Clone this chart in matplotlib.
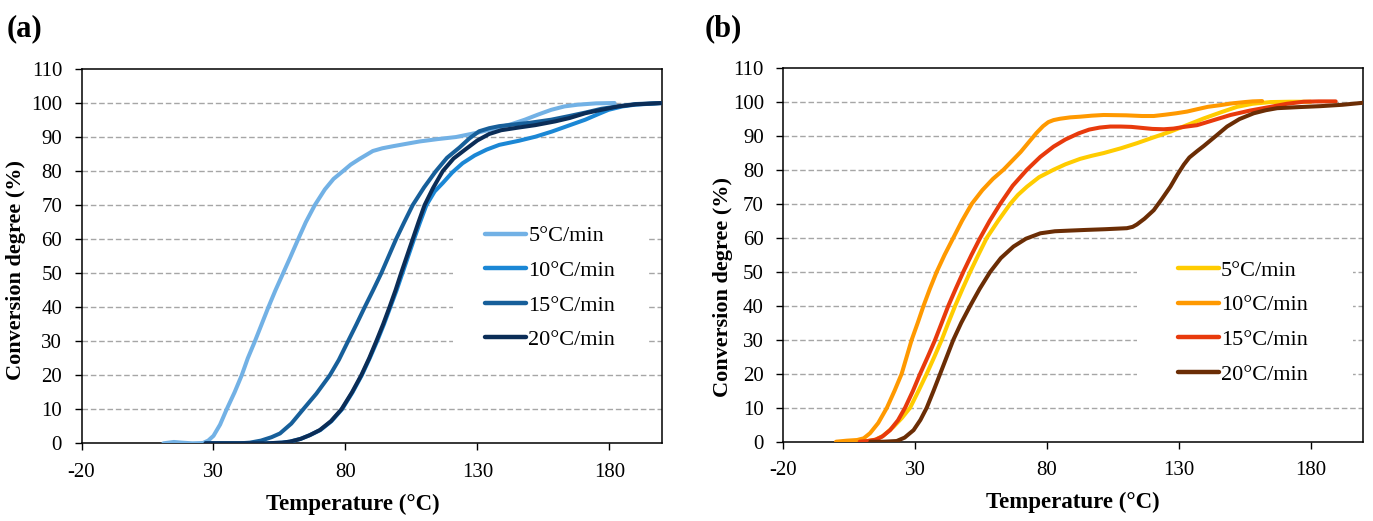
import numpy as np
import matplotlib
matplotlib.use("Agg")
import matplotlib.pyplot as plt
from matplotlib.patches import Rectangle

plt.rcParams['font.family'] = ['Liberation Serif', 'DejaVu Serif']
plt.rcParams['axes.unicode_minus'] = False

rates = ['5°C/min', '10°C/min', '15°C/min', '20°C/min']

# panel (a) - temperature (°C) and conversion degree (%)
a5_T = [11, 15, 18, 22, 26, 28, 30, 32.5, 35, 38, 40.7, 43, 45.7, 48, 50.8, 53.5, 56.4, 59, 62.1, 65,
        68.4, 72.2, 75.5, 79.1, 82, 85.4, 90.4, 94, 98, 103, 108.1, 115, 121.9, 130.7, 137, 143, 148, 153,
        158, 163, 168, 175, 182]
a5_C = [0, 0.4, 0.2, 0, 0.1, 0.8, 2.2, 5.5, 10, 15, 20, 25, 30, 34.5, 40, 45, 50, 54.5, 60, 65,
        70, 74.6, 77.7, 80, 81.9, 83.6, 85.9, 86.7, 87.3, 88, 88.7, 89.4, 90, 91.4, 92.6, 93.8, 95.1, 96.6,
        98, 99, 99.5, 99.9, 100]

a10_T = [27, 40, 50, 56, 59, 63, 66.5, 70.5, 74.7, 78.7, 82.7, 86.2, 89.2, 92, 94.6, 97, 99.4, 101.6, 103.8, 106,
         108.3, 110.7, 113.8, 116.9, 120.5, 124.4, 129, 133.5, 138.3, 145.7, 152, 158.2, 164, 170.9, 176, 179.7,
         185, 189.7, 200]
a10_C = [0, 0, 0, 0.2, 0.5, 1.3, 2.4, 3.9, 6.5, 10, 15, 20, 25, 30, 35, 40, 45, 50, 55, 60,
         65, 70, 74, 76.5, 79.6, 82.3, 84.6, 86.3, 87.7, 88.9, 90.1, 91.6, 93.2, 95.1, 96.8, 98,
         99, 99.5, 100]

a15_T = [27, 35, 40, 43.8, 48, 52, 55.2, 59.5, 64, 69, 74.1, 77.5, 81, 84.2, 87.3, 90.5, 93.6, 96.4, 99.2, 102.3,
         105.5, 109.8, 114.3, 118.5, 123.2, 127, 130.7, 134.5, 138.3, 144, 150, 158, 165, 171, 177, 184, 190, 200]
a15_C = [0, 0, 0, 0.2, 0.8, 1.8, 2.9, 5.8, 10, 14.6, 20, 24.5, 30, 35, 40, 45, 50, 55, 60, 65,
         70, 75.2, 80, 83.9, 86.9, 89.6, 91.7, 92.6, 93.2, 93.7, 94.2, 95.1, 96.2, 97.2, 98.3, 99.1, 99.7, 100]

a20_T = [27, 40, 50, 56, 59, 63, 66.5, 70.3, 74.5, 78.5, 82.5, 86, 89, 91.7, 94.3, 96.7, 99, 101.1, 103.3, 105.5,
         107.7, 110, 113.2, 116.9, 121, 125.7, 130, 134.5, 139, 145.7, 152, 159.5, 165, 170.9, 177, 183.4, 190, 200]
a20_C = [0, 0, 0, 0.2, 0.5, 1.3, 2.4, 3.9, 6.5, 10, 15, 20, 25, 30, 35, 40, 45, 50, 55, 60,
         65, 70, 75, 80, 83.7, 86.5, 89, 90.9, 92, 92.8, 93.5, 94.6, 95.6, 97, 98, 99, 99.6, 100]

# panel (b)
b5_T = [9, 12, 15, 18, 21.8, 25, 28.1, 31.3, 34.4, 37.3, 40.1, 42.6, 45.2, 48, 50.9, 54, 57.2, 61.5, 66.1, 69,
        72.4, 77, 82.5, 87, 92.6, 97, 101.5, 108, 114.1, 120, 126.8, 133, 139.5, 146, 152.1, 158, 164.8, 172, 180]
b5_C = [0, 0.2, 0.6, 1.8, 4.4, 7, 10, 15, 20, 25, 30, 35, 40, 45, 50, 55, 60, 65, 70, 72.6,
        75, 77.8, 80, 81.6, 83.2, 84.1, 84.9, 86.3, 87.8, 89.4, 91.2, 93.1, 95.1, 96.9, 98.5, 99.4, 99.9, 100, 100]

b10_T = [0, 4, 8, 10.5, 12.9, 16, 19.3, 22.2, 24.9, 26.8, 28.7, 31, 33.2, 35.6, 38.2, 41.2, 44.5, 47.8, 51.5, 55.5,
         59.5, 63.5, 67, 70, 73, 76, 78.5, 80.5, 82.5, 85, 88.8, 92.6, 97, 101.5, 110, 116, 120.5, 125, 129, 133.1,
         137, 141, 145.8, 150, 155, 158, 161.6]
b10_C = [0, 0.3, 0.5, 1, 2.5, 5.5, 10, 15, 20, 25, 30, 35, 40, 45, 50, 55, 60, 65, 70, 74,
         77.3, 80, 82.8, 85.2, 88, 90.8, 92.8, 94, 94.6, 95, 95.4, 95.6, 95.9, 96.1, 96, 95.8, 95.8, 96.2, 96.6, 97.1,
         97.8, 98.5, 99, 99.5, 99.9, 100.1, 100.2]

b15_T = [9, 12, 15, 17.5, 20.5, 23.5, 26.2, 29.2, 31.9, 34.8, 37.6, 40.1, 42.6, 45.4, 48.3, 51.4, 54.7, 58.3, 62.3, 67,
         72.4, 77.5, 82.5, 87, 92, 96, 100, 104, 108, 112, 116, 120, 124.3, 128, 132, 136.9, 142, 149.6, 157, 164.8,
         171, 177.4, 183, 189.5]
b15_C = [0, 0.2, 0.6, 1.5, 3.4, 6.3, 10, 15, 20, 25, 30, 35, 40, 45, 50, 55, 60, 65, 70, 75.3,
         80, 83.8, 86.8, 88.9, 90.7, 91.8, 92.4, 92.7, 92.7, 92.6, 92.3, 92, 91.9, 92.1, 92.6, 93.1, 94.3, 96.1, 97.4, 98.5,
         99.4, 100, 100.1, 100.1]

b20_T = [13, 18, 23, 26, 29.4, 32, 34.4, 37, 39.5, 42, 44.5, 47.5, 50.9, 54.5, 58.5, 62.5, 67.3, 72, 77.5, 83,
         88.8, 95, 102, 110.3, 112.5, 114.1, 117, 120.5, 123.5, 126.8, 129.5, 131.9, 134, 137, 139.5, 144, 148.3, 153,
         158.4, 163, 167.3, 175, 183.8, 192, 200]
b20_C = [0, 0, 0.2, 1.2, 3.4, 6.4, 10, 15, 20, 25, 30, 35, 40, 45, 50, 54, 57.4, 59.7, 61.3, 61.9,
         62.1, 62.3, 62.5, 62.8, 63.2, 63.9, 65.6, 68.1, 71.3, 75, 78.6, 81.5, 83.6, 85.5, 87, 89.9, 92.7, 94.9,
         96.6, 97.5, 98.1, 98.4, 98.7, 99.1, 99.7]

colors_a = ['#72b1e5', '#1b87d5', '#175f9a', '#0b2d57']
colors_b = ['#ffcc00', '#ff9900', '#e83a0c', '#6b2d05']

fig = plt.figure(figsize=(13.73, 5.21), dpi=100)
ax_a = fig.add_axes([0.0594, 0.1491, 0.4228, 0.7185])
ax_b = fig.add_axes([0.5705, 0.1522, 0.4225, 0.7178])

panels = [
    dict(ax=ax_a, data=[(a5_T, a5_C), (a10_T, a10_C), (a15_T, a15_C), (a20_T, a20_C)], cols=colors_a,
         tag='(a)', tag_x=0.005, leg=(0.695, 0.415), box=(0.640, 0.223, 0.336, 0.387),
         xlab=(0.468, -0.135), ylab=(-0.095, 0.463)),
    dict(ax=ax_b, data=[(b5_T, b5_C), (b10_T, b10_C), (b15_T, b15_C), (b20_T, b20_C)], cols=colors_b,
         tag='(b)', tag_x=0.513, leg=(0.680, 0.319), box=(0.610, 0.125, 0.372, 0.388),
         xlab=(0.4995, -0.135), ylab=(-0.087, 0.414)),
]

for p in panels:
    ax = p['ax']
    for (t, c), col, lab in zip(p['data'], p['cols'], rates):
        ax.plot(t, c, color=col, lw=2.9, label=lab, solid_capstyle='round', solid_joinstyle='round', zorder=3)
    ax.set_xlim(-20, 200)
    ax.set_ylim(0, 110)
    ax.set_xticks(np.arange(-20, 181, 50))
    ax.set_yticks(np.arange(0, 111, 10))
    for g in range(10, 101, 10):
        ax.axhline(g, color='#a6a6a6', lw=1.0, ls=(0, (4, 2)), zorder=0)
    # white area behind the legend hides the gridlines
    bx, by, bw, bh = p['box']
    ax.add_patch(Rectangle((bx, by), bw, bh, transform=ax.transAxes, facecolor='white',
                           edgecolor='none', zorder=1))
    ax.tick_params(direction='out', length=5, width=1, labelsize=15, pad=9, colors='black')
    for s in ax.spines.values():
        s.set_linewidth(1.1)
        s.set_color('black')
    ax.set_xlabel('Temperature (°C)', fontsize=16.5, fontweight='bold')
    ax.xaxis.set_label_coords(*p['xlab'])
    ax.set_ylabel('Conversion degree (%)', fontsize=16, fontweight='bold')
    ax.yaxis.set_label_coords(*p['ylab'])
    leg = ax.legend(loc='center left', bbox_to_anchor=p['leg'], fontsize=16, frameon=False,
                    handlelength=1.85, handletextpad=0.1, labelspacing=0.63, borderpad=0,
                    borderaxespad=0)
    leg.set_zorder(4)
    for h in leg.get_lines():
        h.set_linewidth(3.2)
    fig.text(p['tag_x'], 0.945, p['tag'], fontsize=22, fontweight='bold', ha='left', va='center')

fig.savefig('out.png', dpi=100)
